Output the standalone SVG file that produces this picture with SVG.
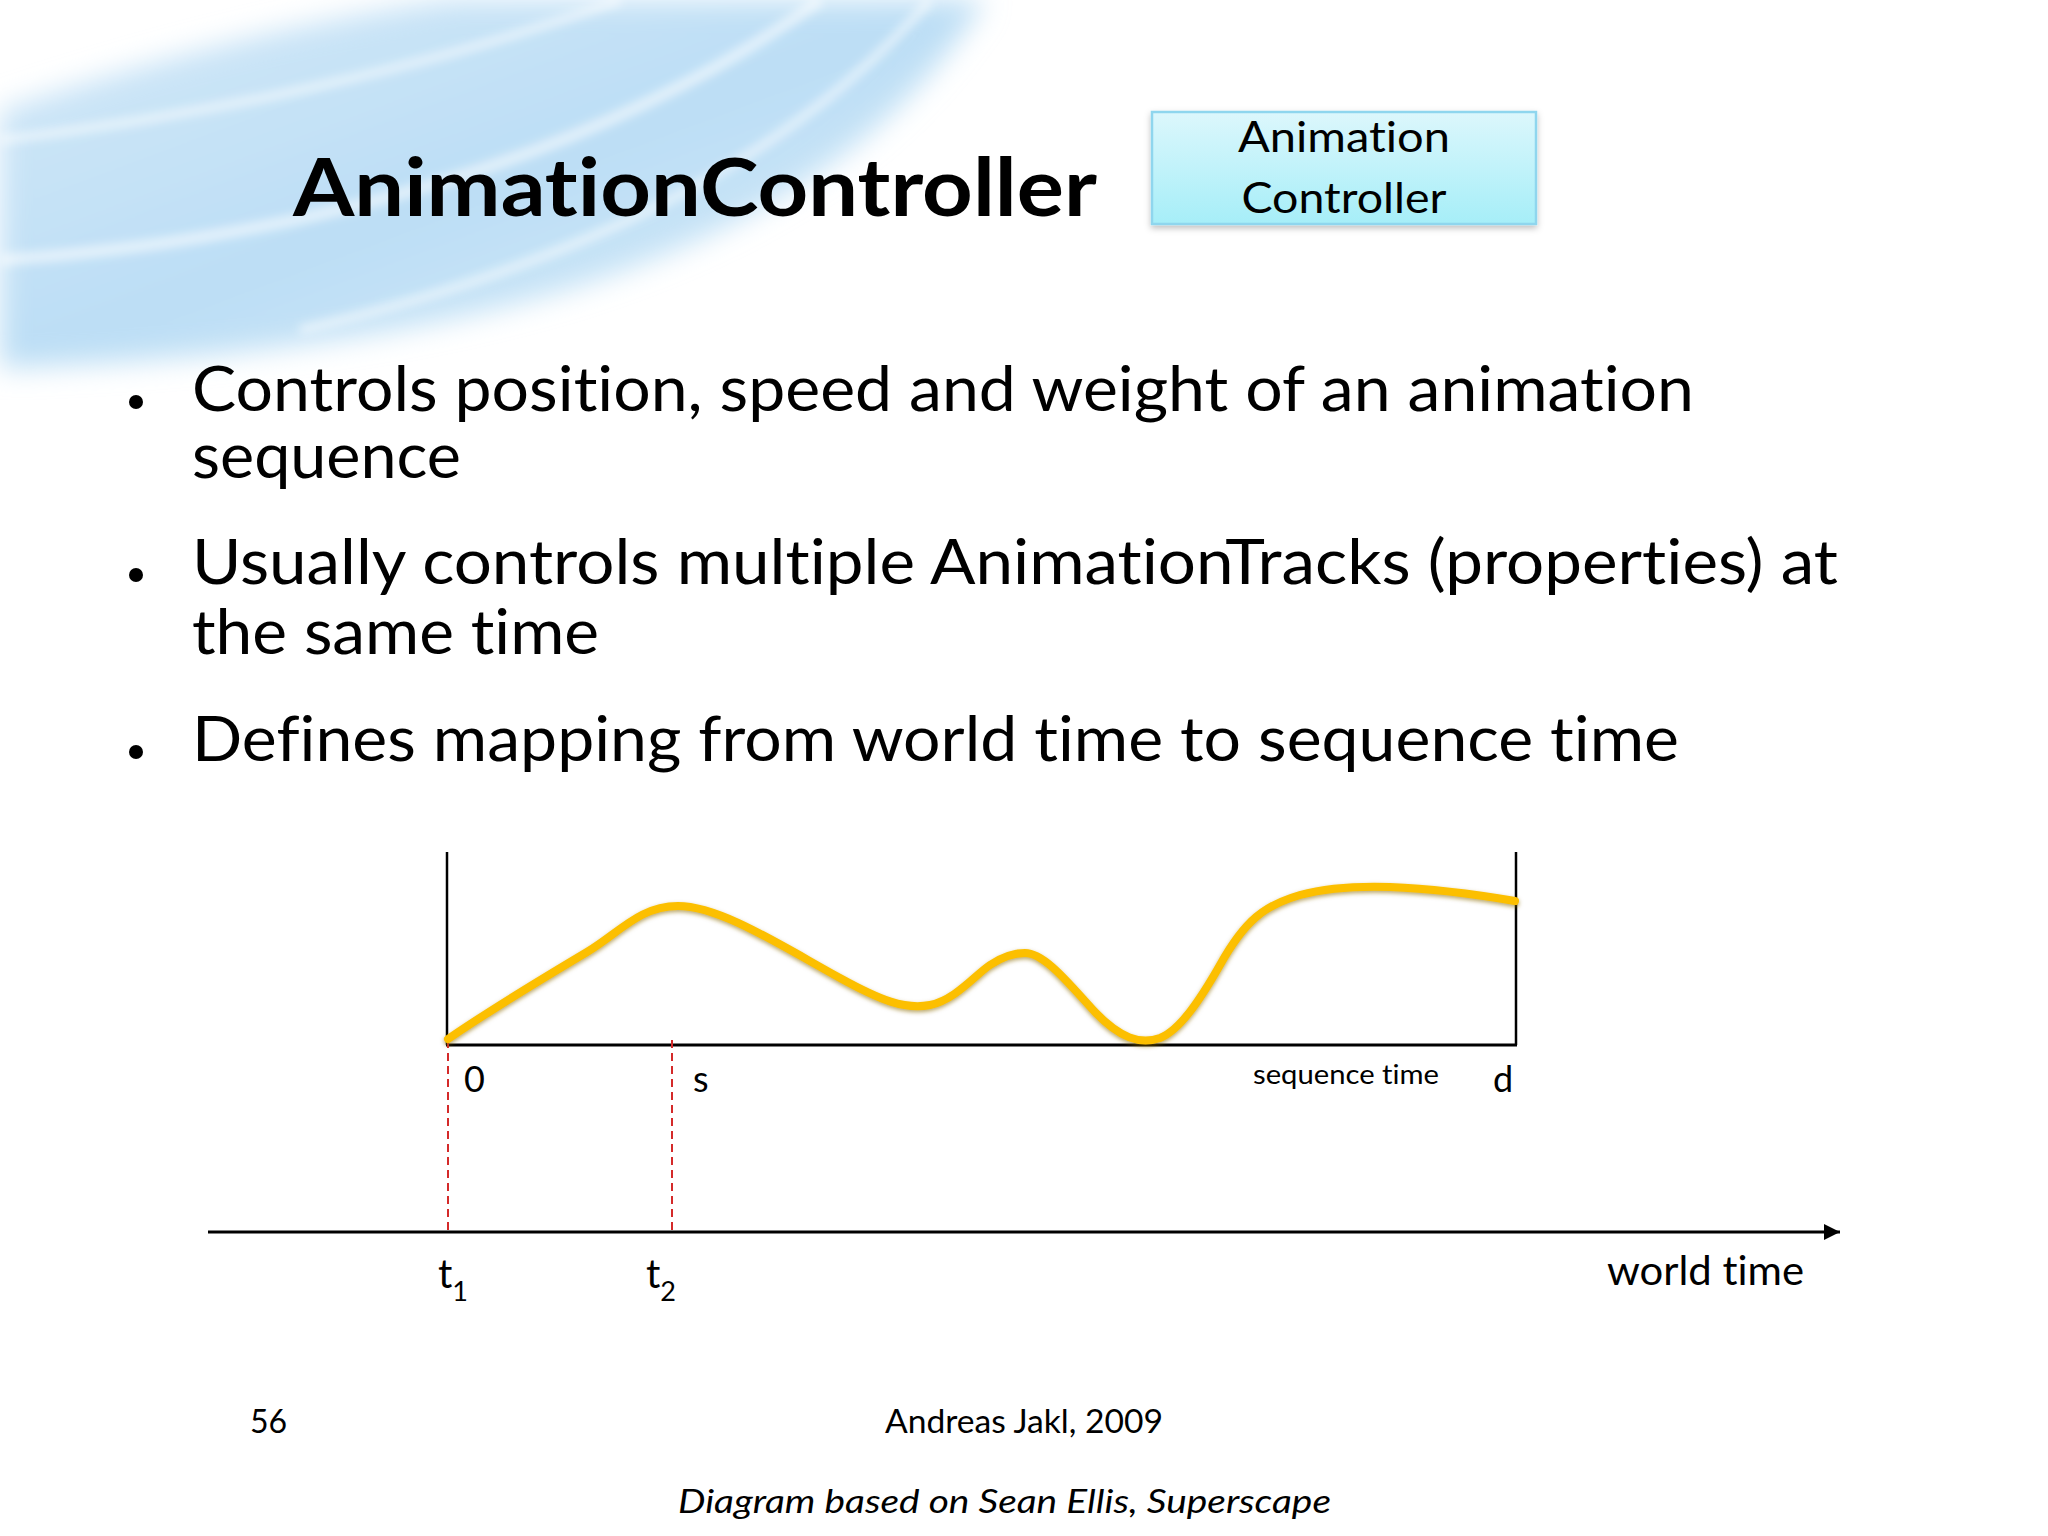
<svg xmlns="http://www.w3.org/2000/svg" width="2048" height="1536" viewBox="0 0 2048 1536">
<defs>
<style>
.t{font-family:Lato,"Open Sans","Liberation Sans",sans-serif;fill:#000;font-variant-ligatures:none;font-feature-settings:"liga" 0,"clig" 0}
.b{font-size:62px}
.ax{stroke:#000;fill:none}
.red{stroke:#d42a2a;stroke-width:2;stroke-dasharray:8,5;fill:none}
</style>
<linearGradient id="boxg" x1="0" y1="0" x2="0" y2="1">
<stop offset="0" stop-color="#dcf7fc"/>
<stop offset="1" stop-color="#a6eef8"/>
</linearGradient>
<linearGradient id="swg" x1="0" y1="0" x2="1" y2="1">
<stop offset="0" stop-color="#d3e8f8"/>
<stop offset="0.5" stop-color="#bcdef5"/>
<stop offset="1" stop-color="#dbedf9"/>
</linearGradient>
<filter id="blur" x="-20%" y="-20%" width="140%" height="140%"><feGaussianBlur stdDeviation="14"/></filter>
<filter id="blur2" x="-20%" y="-20%" width="140%" height="140%"><feGaussianBlur stdDeviation="5"/></filter>
<filter id="sh" x="-10%" y="-10%" width="120%" height="130%"><feDropShadow dx="0" dy="3" stdDeviation="3" flood-color="#000" flood-opacity="0.25"/></filter>
<filter id="csh" x="-5%" y="-20%" width="110%" height="140%"><feDropShadow dx="0" dy="2" stdDeviation="2" flood-color="#8a6a00" flood-opacity="0.6"/></filter>
<marker id="arr" viewBox="0 0 10 10" refX="10" refY="5" markerWidth="16" markerHeight="16" markerUnits="userSpaceOnUse" orient="auto"><path d="M0,0 L10,5 L0,10 Z" fill="#000"/></marker>
</defs>
<rect width="2048" height="1536" fill="#fff"/>
<g id="background">
<path d="M0,110 C150,60 300,20 450,0 L985,0 C905,125 780,225 560,292 C380,345 180,362 0,368 Z" fill="url(#swg)" filter="url(#blur)"/>
<path d="M0,260 C300,240 600,160 820,0" stroke="#fff" stroke-opacity="0.55" stroke-width="12" fill="none" filter="url(#blur2)"/>
<path d="M0,140 C250,110 450,60 620,0" stroke="#fff" stroke-opacity="0.5" stroke-width="10" fill="none" filter="url(#blur2)"/>
<path d="M300,330 C600,260 800,150 930,0" stroke="#fff" stroke-opacity="0.5" stroke-width="10" fill="none" filter="url(#blur2)"/>
</g>
<g id="title">
<text class="t" x="293" y="216" font-size="80" font-weight="bold" textLength="804" lengthAdjust="spacingAndGlyphs">AnimationController</text>
</g>
<g id="node-animation-controller">
<rect x="1152" y="112" width="384" height="112" fill="url(#boxg)" stroke="#8fd6ee" stroke-width="2.5" filter="url(#sh)"/>
<text class="t" x="1344" y="152" font-size="43" text-anchor="middle" textLength="212" lengthAdjust="spacingAndGlyphs">Animation</text>
<text class="t" x="1344" y="213" font-size="43" text-anchor="middle" textLength="205" lengthAdjust="spacingAndGlyphs">Controller</text>
</g>
<g id="bullets">
<circle cx="136" cy="402" r="7" fill="#000"/>
<text class="t b" x="192" y="411" textLength="1502" lengthAdjust="spacingAndGlyphs">Controls position, speed and weight of an animation</text>
<text class="t b" x="192" y="478" textLength="269" lengthAdjust="spacingAndGlyphs">sequence</text>
<circle cx="136" cy="575" r="7" fill="#000"/>
<text class="t b" x="192" y="584" textLength="1646" lengthAdjust="spacingAndGlyphs">Usually controls multiple AnimationTracks (properties) at</text>
<text class="t b" x="192" y="654" textLength="407" lengthAdjust="spacingAndGlyphs">the same time</text>
<circle cx="136" cy="752" r="7" fill="#000"/>
<text class="t b" x="192" y="761" textLength="1487" lengthAdjust="spacingAndGlyphs">Defines mapping from world time to sequence time</text>
</g>
<g id="connectors">
<line class="ax" x1="447" y1="852" x2="447" y2="1045" stroke-width="2.5"/>
<line class="ax" x1="1516" y1="852" x2="1516" y2="1045" stroke-width="2.5"/>
<line class="ax" x1="446" y1="1045" x2="1517" y2="1045" stroke-width="3"/>
<line class="ax" x1="208" y1="1232" x2="1840" y2="1232" stroke-width="3" marker-end="url(#arr)"/>
<line class="red" x1="448" y1="1040" x2="448" y2="1232"/>
<line class="red" x1="672" y1="1040" x2="672" y2="1232"/>
<path id="curve" d="M448,1039 C490,1010 540,980 587,952 C620,932 640,906 678,906 C720,906 780,945 840,978 C880,1000 905,1010 930,1005 C955,1000 975,975 990,965 C1005,955 1015,953 1025,953 C1045,953 1070,985 1095,1012 C1120,1038 1140,1045 1160,1038 C1180,1030 1200,1000 1220,965 C1245,920 1265,905 1300,895 C1330,887 1360,886 1390,887 C1440,889 1480,895 1515,901" fill="none" stroke="#fcbf00" stroke-width="8" stroke-linecap="round" filter="url(#csh)"/>
</g>
<g id="labels">
<text class="t" x="464" y="1092" font-size="36">0</text>
<text class="t" x="693" y="1092" font-size="36">s</text>
<text class="t" x="1253" y="1084" font-size="27" textLength="186" lengthAdjust="spacingAndGlyphs">sequence time</text>
<text class="t" x="1493" y="1092" font-size="36">d</text>
<text class="t" x="438" y="1288" font-size="40">t<tspan font-size="27" dy="13">1</tspan></text>
<text class="t" x="646" y="1288" font-size="40">t<tspan font-size="27" dy="13">2</tspan></text>
<text class="t" x="1607" y="1285" font-size="40" textLength="197" lengthAdjust="spacingAndGlyphs">world time</text>
</g>
<g id="footer">
<text class="t" x="250" y="1433" font-size="32">56</text>
<text class="t" x="885" y="1433" font-size="32" textLength="278" lengthAdjust="spacingAndGlyphs">Andreas Jakl, 2009</text>
<text class="t" x="678" y="1513" font-size="32" font-style="italic" textLength="653" lengthAdjust="spacingAndGlyphs">Diagram based on Sean Ellis, Superscape</text>
</g>
</svg>
